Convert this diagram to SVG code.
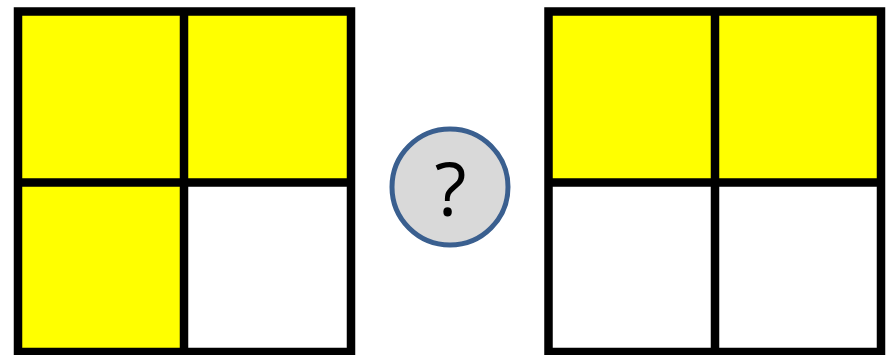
<svg xmlns="http://www.w3.org/2000/svg" width="896" height="355" viewBox="0 0 896 355">
<style>
.y{fill:#ffff00}
.w{fill:#ffffff}
.g{fill:none;stroke:#000;stroke-width:8.5;stroke-linecap:square}
.q{fill:#d9d9d9;stroke:#3a5f8f;stroke-width:5}
.t{font-family:"Open Sans","Noto Sans",sans-serif;font-size:74px;fill:#000;text-anchor:middle}
</style>
<rect width="896" height="355" fill="#fff"/>
<g id="left-grid">
<rect class="y" x="18" y="11.5" width="166" height="171"/>
<rect class="y" x="184" y="11.5" width="167" height="171"/>
<rect class="y" x="18" y="182.5" width="166" height="169.5"/>
<rect class="w" x="184" y="182.5" width="167" height="169.5"/>
<path class="g" d="M18 11.5H351V352H18Z M184 11.5V352 M18 182.5H351"/>
</g>
<g id="question">
<circle class="q" cx="450" cy="187" r="58"/>
<text class="t" x="450.5" y="216">?</text>
</g>
<g id="right-grid">
<rect class="y" x="548.5" y="11.5" width="166.5" height="171"/>
<rect class="y" x="715" y="11.5" width="166" height="171"/>
<rect class="w" x="548.5" y="182.5" width="166.5" height="169.5"/>
<rect class="w" x="715" y="182.5" width="166" height="169.5"/>
<path class="g" d="M548.5 11.5H881V352H548.5Z M715 11.5V352 M548.5 182.5H881"/>
</g>
<g id="connectors"/>
</svg>
